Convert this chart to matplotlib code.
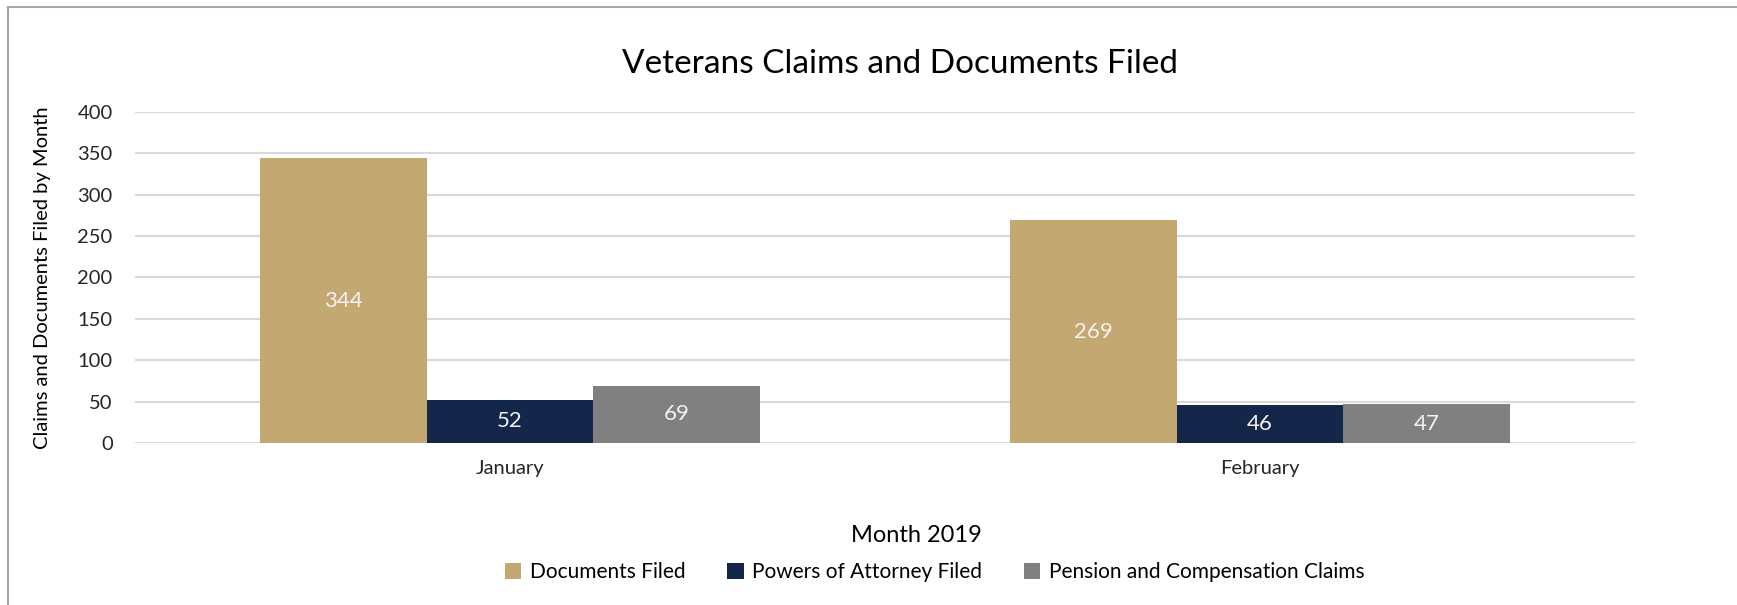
import numpy as np
import matplotlib.pyplot as plt
from matplotlib.lines import Line2D

plt.rcParams['font.family'] = ['Lato', 'DejaVu Sans']

# Monthly filings
months = ['January', 'February']
series_names = ['Documents Filed', 'Powers of Attorney Filed', 'Pension and Compensation Claims']
documents_filed = [344, 269]
powers_of_attorney = [52, 46]
pension_claims = [69, 47]
series_values = [documents_filed, powers_of_attorney, pension_claims]
series_colors = ['#C4A872', '#14264A', '#808080']
yticks = [0, 50, 100, 150, 200, 250, 300, 350, 400]

fig = plt.figure(figsize=(17.37, 6.05), dpi=100)
ax = fig.add_axes([0.0777, 0.2678, 0.8636, 0.5471])

x = np.arange(len(months))
bar_w = 0.222
for j, (name, vals, col) in enumerate(zip(series_names, series_values, series_colors)):
    bars = ax.bar(x + (j - 1) * bar_w, vals, bar_w, color=col, label=name, zorder=3)
    ax.bar_label(bars, labels=[str(v) for v in vals], label_type='center',
                 color='#F2F2F2', fontsize=16)

ax.set_xlim(-0.5, 1.5)
ax.set_ylim(0, 400)
ax.set_yticks(yticks)
ax.set_xticks(x)
ax.set_xticklabels(months)
ax.tick_params(axis='both', length=0, labelsize=14.5, colors='#262626')
ax.tick_params(axis='x', pad=12)
ax.tick_params(axis='y', pad=16)
ax.grid(axis='y', color='#D9D9D9', linewidth=1.5, zorder=0)
for s in ax.spines.values():
    s.set_visible(False)

ax.set_ylabel('Claims and Documents Filed by Month', fontsize=14.5, color='#000000', labelpad=19)
ax.set_xlabel('Month 2019', fontsize=17, color='#000000')
ax.xaxis.set_label_coords(0.521, -0.248)

fig.text(0.518, 0.894, 'Veterans Claims and Documents Filed', ha='center', va='center',
         fontsize=24, color='#000000')

ax.legend(loc='center', bbox_to_anchor=(0.533, -0.39), ncol=3, frameon=False,
          fontsize=15, handlelength=0.8, handleheight=0.8, handletextpad=0.4,
          columnspacing=2.0)

# frame edges on the top and left
fig.add_artist(Line2D([0.0046, 1.0], [0.9884, 0.9884], color='#A6A6A6', linewidth=1.5))
fig.add_artist(Line2D([0.0046, 0.0046], [0.0, 0.9884], color='#A6A6A6', linewidth=1.5))

fig.savefig('out.png', dpi=100, facecolor='white')
